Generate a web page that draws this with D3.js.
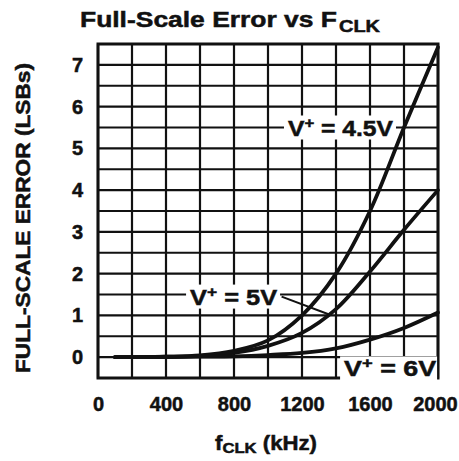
<!DOCTYPE html>
<html>
<head>
<meta charset="utf-8">
<script src="https://cdn.jsdelivr.net/npm/d3@7"></script>
<style>
  body { margin: 0; background: #fff; }
  text { font-family: "Liberation Sans", Arial, sans-serif; font-weight: bold; fill: #111; stroke: #111; stroke-width: 0.5px; }
</style>
</head>
<body>
<script>
// values (kHz, LSBs)
const freqs = [100, 200, 400, 600, 800, 1000, 1200, 1400, 1600, 1800, 2000];
const err45 = [0, 0, 0.01, 0.04, 0.15, 0.4, 1.0, 2.0, 3.5, 5.5, 7.42];
const err5 = [0, 0, 0.01, 0.03, 0.1, 0.27, 0.58, 1.15, 2.05, 3.05, 4.0];
const err6 = [0, 0, 0, 0.01, 0.02, 0.05, 0.1, 0.21, 0.42, 0.7, 1.07];

const xTicks = [0, 400, 800, 1200, 1600, 2000];
const yTicks = [0, 1, 2, 3, 4, 5, 6, 7];

const svgWidth = 459;
const svgHeight = 461;
const margin = { top: 44, right: 21, bottom: 83, left: 98 };

const svg = d3.select("body")
    .append("svg")
    .attr("width", svgWidth)
    .attr("height", svgHeight);

const x = d3.scaleLinear()
    .domain([0, 2000])
    .range([margin.left, svgWidth - margin.right]);

const y = d3.scaleLinear()
    .domain([-0.5, 7.5])
    .range([svgHeight - margin.bottom, margin.top]);

// grid: every 200 kHz and every half LSB
const grid = svg.append("g").attr("stroke", "#111").attr("stroke-width", 2.2);

grid.selectAll(".vgrid")
    .data(d3.range(0, 2001, 200))
    .enter()
    .append("line")
    .attr("x1", d => x(d))
    .attr("x2", d => x(d))
    .attr("y1", y(-0.5))
    .attr("y2", y(7.5));

grid.selectAll(".hgrid")
    .data(d3.range(-0.5, 7.51, 0.5))
    .enter()
    .append("line")
    .attr("x1", x(0))
    .attr("x2", x(2000))
    .attr("y1", d => y(d))
    .attr("y2", d => y(d));

svg.append("rect")
    .attr("x", x(0))
    .attr("y", y(7.5))
    .attr("width", x(2000) - x(0))
    .attr("height", y(-0.5) - y(7.5))
    .attr("fill", "none")
    .attr("stroke", "#111")
    .attr("stroke-width", 3);

// curves
const line = d3.line()
    .x((d, i) => x(freqs[i]))
    .y(d => y(d))
    .curve(d3.curveCatmullRom.alpha(0.5));

[err45, err5, err6].forEach(series => {
    svg.append("path")
        .attr("d", line(series))
        .attr("fill", "none")
        .attr("stroke", "#111")
        .attr("stroke-width", 3.8)
        .attr("stroke-linecap", "round");
});

// leader from the 5V label to its curve
svg.append("line")
    .attr("x1", x(1080))
    .attr("y1", y(1.45))
    .attr("x2", x(1360))
    .attr("y2", y(1.02))
    .attr("stroke", "#111")
    .attr("stroke-width", 2);

// curve labels with white boxes over the grid
const labels = [
    { volts: "4.5V", fx: 1094, fy: 5.5, w: 112, len: 105 },
    { volts: "5V", fx: 518, fy: 1.45, w: 94, len: 87 },
    { volts: "6V", fx: 1424, fy: -0.27, w: 97, len: 92 }
];

labels.forEach(d => {
    const g = svg.append("g")
        .attr("transform", `translate(${x(d.fx)},${y(d.fy)})`);
    g.append("rect")
        .attr("x", 0)
        .attr("y", -12)
        .attr("width", d.w)
        .attr("height", 24)
        .attr("fill", "#fff");
    const t = g.append("text")
        .attr("x", 4)
        .attr("y", 8)
        .attr("textLength", d.len)
        .attr("lengthAdjust", "spacingAndGlyphs")
        .style("font-size", "22px");
    t.append("tspan").text("V");
    t.append("tspan").attr("dy", -8).style("font-size", "15px").text("+");
    t.append("tspan").attr("dy", 8).text("  = " + d.volts);
});

// tick labels
svg.append("g")
    .attr("transform", `translate(0,${y(-0.5)})`)
    .call(d3.axisBottom(x).tickValues(xTicks).tickFormat(d3.format("d")).tickSize(0).tickPadding(19))
    .call(g => g.select(".domain").remove())
    .call(g => g.selectAll(".tick:last-of-type text").attr("dx", -3))
    .selectAll("text")
    .style("font-size", "20px")
    .style("font-family", "'Liberation Sans', Arial, sans-serif")
    .style("font-weight", "bold")
    .attr("fill", "#111");

svg.append("g")
    .attr("transform", `translate(${x(0)},0)`)
    .call(d3.axisLeft(y).tickValues(yTicks).tickFormat(d3.format("d")).tickSize(0).tickPadding(15))
    .call(g => g.select(".domain").remove())
    .selectAll("text")
    .style("font-size", "20px")
    .style("font-family", "'Liberation Sans', Arial, sans-serif")
    .style("font-weight", "bold")
    .attr("fill", "#111");

// title
svg.append("text")
    .attr("x", 80)
    .attr("y", 27)
    .attr("textLength", 257)
    .attr("lengthAdjust", "spacingAndGlyphs")
    .style("font-size", "22px")
    .text("Full-Scale Error vs F");
svg.append("text")
    .attr("x", 339)
    .attr("y", 32)
    .attr("textLength", 41)
    .attr("lengthAdjust", "spacingAndGlyphs")
    .style("font-size", "16px")
    .text("CLK");

// axis titles
const xTitle = svg.append("text")
    .attr("x", 215)
    .attr("y", 450)
    .attr("textLength", 102)
    .attr("lengthAdjust", "spacingAndGlyphs")
    .style("font-size", "20px");
xTitle.append("tspan").text("f");
xTitle.append("tspan").attr("dy", 3).style("font-size", "15px").text("CLK");
xTitle.append("tspan").attr("dy", -3).text(" (kHz)");

svg.append("text")
    .attr("transform", "translate(30,218) rotate(-90)")
    .attr("text-anchor", "middle")
    .attr("textLength", 310)
    .attr("lengthAdjust", "spacingAndGlyphs")
    .style("font-size", "20px")
    .text("FULL-SCALE ERROR (LSBs)");
</script>
</body>
</html>
